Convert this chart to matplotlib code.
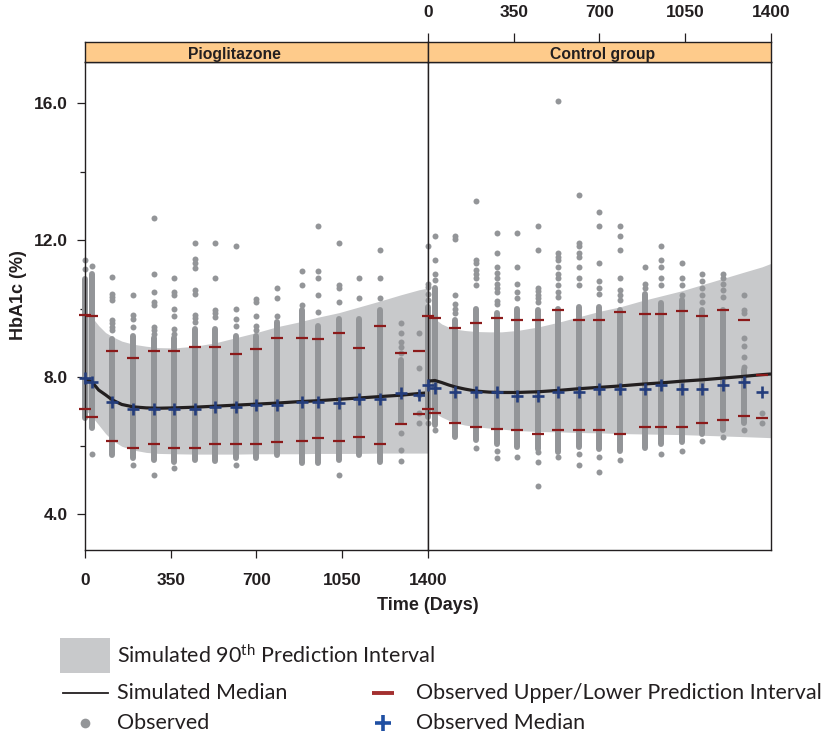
import matplotlib
matplotlib.use("Agg")
import matplotlib.pyplot as plt
from matplotlib.patches import Rectangle

plt.rcParams['font.family'] = ['Liberation Sans', 'DejaVu Sans']
plt.rcParams['mathtext.fontset'] = 'custom'
plt.rcParams['mathtext.rm'] = 'Lato'
plt.rcParams['mathtext.default'] = 'regular'

# ---------------- data ----------------
obs_time = [0, 28, 112, 196, 280, 364, 448, 532, 616, 700, 784, 886, 952, 1036, 1120, 1204, 1288, 1364]

# Pioglitazone panel
pio_upper = [9.81, 9.79, 8.77, 8.57, 8.77, 8.77, 8.87, 8.87, 8.66, 8.81, 9.13, 9.13, 9.10, 9.29, 8.86, 9.49, 8.71, 8.77]
pio_lower = [7.06, 6.84, 6.14, 5.94, 6.04, 5.94, 5.94, 6.04, 6.04, 6.04, 6.09, 6.14, 6.23, 6.14, 6.24, 6.04, 6.62, 6.91]
pio_median = [7.96, 7.86, 7.28, 7.06, 7.06, 7.06, 7.06, 7.13, 7.13, 7.17, 7.17, 7.28, 7.26, 7.25, 7.36, 7.36, 7.54, 7.47]
pio_dense_lo = [6.80, 6.50, 5.72, 5.63, 5.58, 5.53, 5.58, 5.55, 5.63, 5.63, 5.72, 5.48, 5.48, 5.58, 5.72, 5.53, 6.70, None]
pio_dense_hi = [10.85, 11.00, 9.10, 9.20, 9.13, 9.13, 9.40, 9.40, 9.20, 9.20, 9.60, 9.95, 9.50, 9.70, 9.70, 9.95, 8.50, None]
pio_sparse = [
    [11.42, 11.15],
    [11.25, 5.74],
    [10.91, 10.42, 10.33, 10.25, 9.66, 9.57, 9.47, 9.37],
    [10.40, 9.80, 9.70, 9.47, 5.43],
    [12.64, 11.01, 10.49, 10.20, 10.10, 9.47, 9.37, 9.27, 5.14],
    [10.90, 10.49, 10.39, 10.00, 9.79, 9.39, 9.27, 5.33],
    [11.92, 11.44, 11.34, 11.19, 10.54, 10.44, 9.81, 9.71, 9.62],
    [11.92, 10.90, 9.96, 9.86, 9.76],
    [11.82, 9.98, 9.69, 9.50, 5.43],
    [10.29, 10.20, 9.78, 9.49, 9.37],
    [10.59, 10.30, 9.78],
    [11.10, 10.70, 10.10],
    [12.42, 11.10, 10.90, 10.40, 9.89],
    [11.92, 10.70, 10.59, 10.20, 5.14],
    [10.90, 10.30],
    [11.71, 10.90, 10.30],
    [9.58, 9.28, 9.03, 8.89, 8.71, 6.36, 5.87, 5.56],
    [9.28, 8.27, 7.47, 6.94, 6.67],
]

# Control group panel
ctl_upper = [9.79, 9.73, 9.42, 9.59, 9.73, 9.68, 9.68, 9.96, 9.68, 9.68, 9.89, 9.83, 9.83, 9.94, 9.79, 9.96, 9.68, 8.07]
ctl_lower = [7.06, 6.96, 6.65, 6.54, 6.49, 6.45, 6.34, 6.45, 6.45, 6.45, 6.34, 6.54, 6.54, 6.54, 6.65, 6.75, 6.85, 6.80]
ctl_median = [7.77, 7.67, 7.55, 7.55, 7.55, 7.46, 7.46, 7.55, 7.55, 7.65, 7.65, 7.65, 7.77, 7.65, 7.65, 7.77, 7.87, 7.55]
ctl_dense_lo = [6.84, 6.60, 6.26, 6.16, 6.05, 5.97, 5.90, 5.80, 5.95, 5.90, 5.85, 5.92, 6.05, 6.10, 6.35, 6.45, 6.65, None]
ctl_dense_hi = [10.05, 10.60, 9.66, 10.00, 9.86, 10.00, 9.95, 10.00, 10.05, 10.05, 9.95, 10.44, 10.15, 10.25, 9.95, 9.95, 8.20, None]
ctl_sparse = [
    [11.82, 10.73, 10.63, 10.44, 10.25, 6.67],
    [12.13, 11.42, 11.01, 10.83, 6.45],
    [12.13, 12.02, 10.40, 10.13, 10.00, 9.86],
    [13.14, 11.42, 11.34, 11.12, 11.00, 10.88, 10.69, 5.94],
    [12.22, 11.61, 11.20, 11.03, 10.88, 10.73, 10.59, 10.49, 10.23, 10.13, 5.84, 5.64],
    [12.22, 11.20, 10.71, 10.49, 10.30, 5.67],
    [12.42, 11.71, 10.60, 10.50, 10.40, 10.30, 10.20, 5.80, 5.53, 4.83],
    [16.07, 11.61, 11.51, 11.42, 11.20, 11.01, 10.88, 10.69, 10.49, 10.35, 5.67],
    [13.33, 11.92, 11.82, 11.61, 11.51, 11.20, 10.90, 10.70, 5.74, 5.43],
    [12.83, 12.42, 11.32, 10.80, 10.59, 10.44, 5.67, 5.24],
    [12.42, 12.13, 11.71, 10.90, 10.54, 10.40, 10.25, 5.58],
    [11.20, 10.73, 10.60],
    [11.82, 11.42, 11.20, 10.90, 10.69, 5.74],
    [11.32, 10.90, 10.69, 10.40, 5.84],
    [11.01, 10.80, 10.59, 10.40, 10.20, 6.14],
    [11.01, 10.90, 10.73, 10.54, 10.35, 6.26],
    [10.40, 9.96, 9.86, 9.13, 8.90, 8.60, 8.30, 6.45],
    [6.96, 6.67],
]

# simulated median and 90% prediction interval
sim_time = [0, 28, 56, 84, 112, 150, 196, 250, 300, 364, 448, 532, 616, 700, 784, 868, 952, 1036, 1120, 1204, 1288, 1364, 1400]
pio_sim_med = [7.95, 7.86, 7.62, 7.48, 7.33, 7.20, 7.13, 7.10, 7.09, 7.10, 7.12, 7.15, 7.18, 7.21, 7.24, 7.28, 7.31, 7.35, 7.39, 7.43, 7.47, 7.52, 7.54]
pio_sim_hi = [9.85, 9.75, 9.50, 9.30, 9.18, 9.05, 8.96, 8.90, 8.86, 8.85, 8.90, 9.00, 9.15, 9.30, 9.47, 9.60, 9.75, 9.88, 10.05, 10.22, 10.40, 10.55, 10.60]
pio_sim_lo = [7.05, 6.85, 6.60, 6.35, 6.15, 5.98, 5.87, 5.80, 5.77, 5.76, 5.75, 5.75, 5.75, 5.76, 5.76, 5.76, 5.77, 5.77, 5.77, 5.78, 5.78, 5.78, 5.78]
ctl_sim_med = [7.88, 7.90, 7.84, 7.77, 7.71, 7.65, 7.59, 7.56, 7.55, 7.55, 7.57, 7.61, 7.66, 7.70, 7.74, 7.79, 7.83, 7.88, 7.92, 7.97, 8.02, 8.07, 8.09]
ctl_sim_hi = [9.85, 9.70, 9.55, 9.46, 9.40, 9.36, 9.33, 9.32, 9.32, 9.36, 9.46, 9.60, 9.76, 9.92, 10.05, 10.22, 10.37, 10.52, 10.70, 10.88, 11.06, 11.22, 11.32]
ctl_sim_lo = [7.05, 6.95, 6.83, 6.74, 6.66, 6.60, 6.55, 6.51, 6.48, 6.44, 6.41, 6.40, 6.38, 6.37, 6.35, 6.34, 6.33, 6.32, 6.30, 6.28, 6.26, 6.24, 6.23]

panel_titles = ["Pioglitazone", "Control group"]
x_ticks = [0, 350, 700, 1050, 1400]
y_major = [4.0, 8.0, 12.0, 16.0]
y_minor = [6.0, 10.0, 14.0]

# ---------------- style ----------------
DOT = '#939598'
BAND = '#c8c9cb'
LINE = '#231f20'
RED = '#8b1a1a'
BLUE = '#243d7c'
STRIP = '#fecb8b'
TXT = '#231f20'
LEG_RED = '#a3302f'
LEG_BLUE = '#1f4fa3'

W, H = 829, 740
fig = plt.figure(figsize=(W / 100, H / 100), dpi=100)


def fx(px):
    return px / W


def fy(py):
    return 1 - py / H


# legend overlay (pixel coordinates)
leg = fig.add_axes([0, 0, 1, 1])
leg.set_xlim(0, W)
leg.set_ylim(H, 0)
leg.axis('off')

axL = fig.add_axes([fx(85), fy(550), fx(428) - fx(85), fy(62) - fy(550)])
axR = fig.add_axes([fx(428), fy(550), fx(771) - fx(428), fy(62) - fy(550)])
stL = fig.add_axes([fx(85), fy(62), fx(428) - fx(85), fy(42) - fy(62)])
stR = fig.add_axes([fx(428), fy(62), fx(771) - fx(428), fy(42) - fy(62)])

DOT_D = 4.3  # points


def draw_panel(ax, dlo, dhi, sparse, up, lo, med, smed, shi, slo):
    ax.fill_between(sim_time, slo, shi, color=BAND, lw=0, zorder=1)
    for x, a, b in zip(obs_time, dlo, dhi):
        if a is not None:
            ax.vlines(x, a, b, colors=DOT, lw=DOT_D, capstyle='round', zorder=2, clip_on=False)
    xs = [x for x, vals in zip(obs_time, sparse) for _ in vals]
    ys = [v for vals in sparse for v in vals]
    ax.plot(xs, ys, 'o', ms=DOT_D, mew=0, color=DOT, zorder=2, clip_on=False)
    ax.plot(sim_time, smed, color=LINE, lw=2.3, zorder=3, solid_capstyle='butt')
    ax.plot(obs_time, up, '_', ms=8.5, mew=1.6, color=RED, zorder=4, clip_on=False)
    ax.plot(obs_time, lo, '_', ms=8.5, mew=1.6, color=RED, zorder=4, clip_on=False)
    ax.plot(obs_time, med, '+', ms=9, mew=1.9, color=BLUE, zorder=5, clip_on=False)
    ax.set_xlim(0, 1400)
    ax.set_ylim(2.95, 17.2)
    for s in ax.spines.values():
        s.set_linewidth(1.0)
        s.set_color(LINE)


draw_panel(axL, pio_dense_lo, pio_dense_hi, pio_sparse, pio_upper, pio_lower, pio_median,
           pio_sim_med, pio_sim_hi, pio_sim_lo)
draw_panel(axR, ctl_dense_lo, ctl_dense_hi, ctl_sparse, ctl_upper, ctl_lower, ctl_median,
           ctl_sim_med, ctl_sim_hi, ctl_sim_lo)

tick_font = dict(fontsize=12.5, fontweight='bold', color=TXT)

axL.set_yticks(y_major)
axL.set_yticklabels([f"{v:.1f}" for v in y_major], **tick_font)
axL.set_yticks(y_minor, minor=True)
axL.set_xticks(x_ticks)
axL.set_xticklabels([str(v) for v in x_ticks], **tick_font)
axL.tick_params(axis='y', which='major', length=5.5, width=0.9, pad=7, color=LINE)
axL.tick_params(axis='y', which='minor', length=3.8, width=0.9, color=LINE)
axL.tick_params(axis='x', which='major', length=5.8, width=0.9, pad=11, color=LINE)
axR.tick_params(left=False, bottom=False, labelleft=False, labelbottom=False)

for st, title, xpos in ((stL, panel_titles[0], 0.437), (stR, panel_titles[1], 0.509)):
    st.set_facecolor(STRIP)
    st.set_xlim(0, 1400)
    st.set_ylim(0, 1)
    for s in st.spines.values():
        s.set_linewidth(1.0)
        s.set_color(LINE)
    st.text(xpos, 0.13, title, transform=st.transAxes, ha='center', va='baseline',
            fontsize=11.3, fontweight='bold', color=TXT)
    st.set_yticks([])

stL.set_xticks([])
stR.xaxis.tick_top()
stR.set_xticks(x_ticks)
stR.set_xticklabels([str(v) for v in x_ticks], **tick_font)
stR.tick_params(axis='x', top=True, bottom=False, length=6.5, width=0.9, pad=9, color=LINE)

fig.text(fx(428), fy(605), 'Time (Days)', ha='center', va='center', fontsize=13,
         fontweight='bold', color=TXT)
fig.text(fx(19), fy(295), 'HbA1c (%)', ha='center', va='center', rotation=90, fontsize=13,
         fontweight='bold', color=TXT)

# legend
lf = dict(fontsize=15.5, family='Lato', color=TXT, va='center')
leg.add_patch(Rectangle((60, 638), 50, 35, color=BAND, lw=0))
leg.text(117, 656, 'Simulated 90$^{\\mathrm{th}}$ Prediction Interval', **lf)
leg.plot([63, 108], [693, 693], color=LINE, lw=1.3)
leg.text(117, 693, 'Simulated Median', **lf)
leg.plot([85], [723], 'o', ms=7, mew=0, color=DOT)
leg.text(117, 723, 'Observed', **lf)
leg.plot([372, 394], [693, 693], color=LEG_RED, lw=2.8, solid_capstyle='butt')
leg.text(416, 693, 'Observed Upper/Lower Prediction Interval', **lf)
leg.plot([383], [723], '+', ms=11, mew=2.6, color=LEG_BLUE)
leg.text(416, 723, 'Observed Median', **lf)

fig.savefig('out.png', dpi=100)
